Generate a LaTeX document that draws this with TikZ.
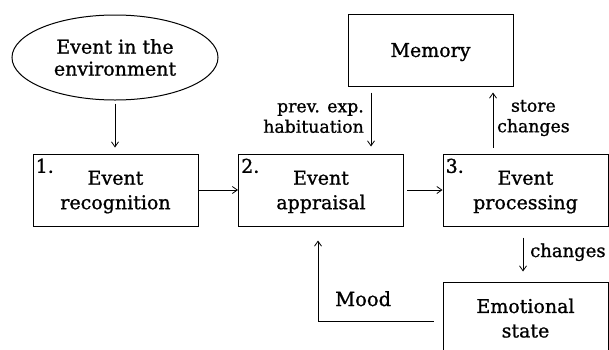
\documentclass[tikz,border=0pt]{standalone}
\usepackage{fontspec}
\setmainfont[FakeBold=1]{DejaVu Serif}
\usetikzlibrary{shapes.geometric,arrows.meta,calc}
\begin{document}
\begin{tikzpicture}[x=1pt,y=-1pt,
  every node/.style={font=\fontsize{19}{23}\selectfont, inner sep=0pt},
  box/.style={draw, line width=1pt, minimum width=165pt, minimum height=72pt, align=center, text depth=0pt, font=\fontsize{19}{24.5}\selectfont},
  oval/.style={draw, ellipse, line width=1pt, minimum width=206pt, minimum height=85pt, align=center, font=\fontsize{19}{22}\selectfont},
  num/.style={anchor=north west},
  lbl/.style={font=\fontsize{17.3}{20.5}\selectfont},
  arr/.style={-{Straight Barb[length=5pt,width=7pt]}, line width=0.8pt}]
\useasboundingbox (0,0) rectangle (609,349);
\node[oval] (env) at (115,57.5) {Event in the\\environment};
\node[box] (b1) at (115.5,190) {Event\\recognition};
\node[box] (b2) at (321,190) {Event\\appraisal};
\node[box] (b3) at (525.5,190) {Event\\processing};
\node[box] (mem) at (430.5,50) {Memory};
\node[box] (emo) at (525.5,318) {Emotional\\state};
\node[num] (n1) at ([shift={(3,5)}]b1.north west) {1.};
\node[num] (n2) at ([shift={(3,5)}]b2.north west) {2.};
\node[num] (n3) at ([shift={(3,5)}]b3.north west) {3.};
\draw[arr, shorten <=3pt, shorten >=6pt] (env.south) -- (env.south |- b1.north);
\draw[arr] (b1) -- (b2);
\draw[arr, shorten <=3pt] (b2) -- (b3);
\draw[arr, shorten <=6pt, shorten >=7pt] ([xshift=-59.5pt]mem.south) -- ([xshift=50pt]b2.north);
\draw[arr, shorten <=6pt, shorten >=6pt] ([xshift=-32.5pt]b3.north) -- ([xshift=62.5pt]mem.south);
\draw[arr, shorten <=11pt, shorten >=10pt] ([xshift=-2.5pt]b3.south) -- ([xshift=-2.5pt]emo.north);
\coordinate (mc) at (318,321);
\draw[arr, shorten <=9pt, shorten >=14pt] (emo.west |- mc) -- (mc) -- (mc |- b2.south);
\node[lbl, anchor=east, align=right] (pe) at (364,118) {prev. exp.\\habituation};
\node[lbl, anchor=west, align=center] (sc) at (497,118) {store\\changes};
\node[lbl, anchor=base west, font=\fontsize{18}{20}\selectfont] (ch) at (530,257) {changes};
\node[lbl, anchor=base west, font=\fontsize{19.5}{22}\selectfont] (md) at (335,306) {Mood};
\end{tikzpicture}
\end{document}
